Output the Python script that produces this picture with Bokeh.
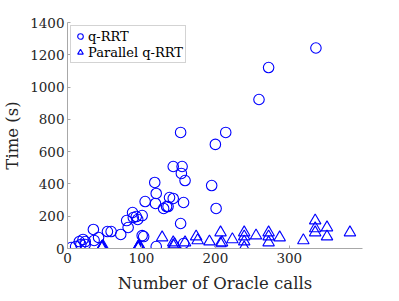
from bokeh.plotting import figure
from bokeh.models import Range1d, Legend, LegendItem, FixedTicker
from bokeh.embed import file_html
from bokeh.resources import INLINE

# q-RRT data (Oracle calls, time in s)
qrrt_x = [5, 11, 16, 18, 21, 24, 24, 35, 36, 42, 54, 59, 72, 80, 82, 88, 89, 93, 95,
          101, 101, 105, 103, 118, 120, 119, 130, 134, 136, 138, 143, 143, 153, 154,
          155, 157, 159, 153, 157, 120, 195, 200, 201, 214, 259, 272, 336]
qrrt_y = [6, 12, 43, 25, 56, 43, 25, 118, 50, 68, 105, 105, 87, 173, 130, 223, 192, 198, 180,
          204, 80, 291, 74, 409, 341, 279, 248, 260, 260, 316, 310, 508, 719, 465,
          508, 285, 421, 155, 31, 12, 390, 645, 248, 719, 923, 1121, 1242]

# Parallel q-RRT data
par_x = [46, 47, 48, 47, 47, 95, 96, 97, 96, 96, 97, 128, 143, 143, 145, 159, 174, 176, 192,
         207, 207, 209, 223, 239, 239, 239, 239, 255, 272, 272, 272, 287, 319,
         335, 335, 335, 351, 351, 382]
par_y = [5, 10, 15, 8, 12, 6, 12, 19, 3, 9, 15, 68, 37, 19, 25, 37, 74, 50, 43,
         99, 31, 37, 56, 99, 74, 43, 6, 80, 99, 74, 37, 68, 50,
         173, 124, 99, 130, 74, 99]

x_ticks = [0, 100, 200, 300]
y_ticks = [0, 200, 400, 600, 800, 1000, 1200, 1400]

FONT = "DejaVu Serif"
BLUE = "#0000ff"

p = figure(output_backend="svg", toolbar_location=None,
           x_range=Range1d(0, 399), y_range=Range1d(0, 1400),
           frame_width=295, frame_height=226,
           min_border_left=58, min_border_top=22, min_border_right=25, min_border_bottom=50)
p.outline_line_color = None
p.xgrid.visible = False
p.ygrid.visible = False

r1 = p.scatter(qrrt_x, qrrt_y, marker="circle", size=10.5, fill_color=None,
               line_color=BLUE, line_width=1.1)
r2 = p.scatter(par_x, par_y, marker="triangle", size=11.5, fill_color=None,
               line_color=BLUE, line_width=1.1)

for ax in (p.xaxis[0], p.yaxis[0]):
    ax.axis_line_color = "#a8a8a8"
    ax.major_tick_line_color = "#a8a8a8"
    ax.major_tick_in = 3
    ax.major_tick_out = 0
    ax.minor_tick_line_color = None
    ax.major_label_text_font = FONT
    ax.major_label_text_font_size = "13.5px"
    ax.major_label_text_color = "#262626"
    ax.axis_label_text_font = FONT
    ax.axis_label_text_font_size = "16.5px"
    ax.axis_label_text_font_style = "normal"
    ax.axis_label_text_color = "#262626"

p.xaxis.ticker = FixedTicker(ticks=x_ticks)
p.yaxis.ticker = FixedTicker(ticks=y_ticks)
p.xaxis.axis_label = "Number of Oracle calls"
p.yaxis.axis_label = "Time (s)"
p.xaxis.major_label_standoff = 4
p.yaxis.major_label_standoff = 3
p.xaxis.axis_label_standoff = 8
p.yaxis.axis_label_standoff = 5

legend = Legend(items=[LegendItem(label="q-RRT", renderers=[r1]),
                       LegendItem(label="Parallel q-RRT", renderers=[r2])],
                location="top_left")
legend.label_text_font = FONT
legend.label_text_font_size = "13px"
legend.label_text_color = "#000000"
legend.border_line_color = "#a8a8a8"
legend.background_fill_alpha = 1
legend.padding = 2
legend.spacing = 0
legend.margin = 3
legend.glyph_width = 14
legend.glyph_height = 16
legend.label_height = 16
legend.label_standoff = 1
p.add_layout(legend)

open("out.html", "w").write(file_html(p, INLINE))
